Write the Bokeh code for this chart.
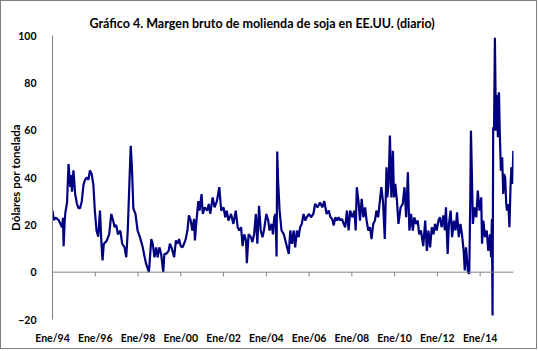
from bokeh.plotting import figure
from bokeh.models import FixedTicker, Span, Range1d, Title
from bokeh.embed import file_html
from bokeh.resources import INLINE

title_text = "Gráfico 4. Margen bruto de molienda de soja en EE.UU. (diario)"
y_label = "Dólares por tonelada"

tick_years = [1994, 1996, 1998, 2000, 2002, 2004, 2006, 2008, 2010, 2012, 2014]
tick_labels = ["Ene/94", "Ene/96", "Ene/98", "Ene/00", "Ene/02", "Ene/04",
               "Ene/06", "Ene/08", "Ene/10", "Ene/12", "Ene/14"]
y_ticks = [-20, 0, 20, 40, 60, 80, 100]

# decimal year of observation
decimal_year = [
    1994.00, 1994.06, 1994.14, 1994.22, 1994.29, 1994.37, 1994.45, 1994.49, 1994.52, 1994.57,
    1994.60, 1994.68, 1994.75, 1994.83, 1994.88, 1994.91, 1994.98, 1995.06, 1995.14, 1995.22,
    1995.29, 1995.37, 1995.45, 1995.52, 1995.60, 1995.68, 1995.75, 1995.83, 1995.91, 1995.98,
    1996.06, 1996.14, 1996.22, 1996.29, 1996.34, 1996.40, 1996.52, 1996.65, 1996.75, 1996.83,
    1996.91, 1996.98, 1997.06, 1997.17, 1997.26, 1997.37, 1997.45, 1997.52, 1997.60, 1997.66,
    1997.72, 1997.78, 1997.88, 1997.98, 1998.09, 1998.22,
    1998.31, 1998.38, 1998.51, 1998.62, 1998.69, 1998.77, 1998.85, 1998.92, 1999.00, 1999.08,
    1999.18, 1999.23, 1999.31, 1999.43, 1999.49, 1999.58, 1999.69, 1999.77, 1999.85, 1999.92,
    2000.00, 2000.08, 2000.15, 2000.23, 2000.31, 2000.38, 2000.46, 2000.54, 2000.62, 2000.66,
    2000.72, 2000.82, 2000.88, 2000.97, 2001.03, 2001.12, 2001.23, 2001.31, 2001.38, 2001.49,
    2001.58, 2001.69, 2001.80, 2001.89, 2002.00, 2002.08, 2002.15, 2002.23, 2002.35, 2002.46,
    2002.57,
    2002.66, 2002.74, 2002.82, 2002.89, 2002.97, 2003.05, 2003.09, 2003.17, 2003.28, 2003.35,
    2003.43, 2003.51, 2003.58, 2003.66, 2003.74, 2003.82, 2003.89, 2004.00, 2004.09, 2004.15,
    2004.25, 2004.31, 2004.37, 2004.43, 2004.48, 2004.51, 2004.55, 2004.62, 2004.71, 2004.82,
    2004.89, 2004.97, 2005.05, 2005.12, 2005.20, 2005.28, 2005.35, 2005.43, 2005.51, 2005.58,
    2005.66, 2005.74, 2005.82, 2005.89, 2006.00, 2006.09, 2006.20, 2006.28, 2006.40, 2006.51,
    2006.62, 2006.71, 2006.82,
    2006.92, 2007.00, 2007.08, 2007.15, 2007.23, 2007.31, 2007.38, 2007.46, 2007.54, 2007.62,
    2007.69, 2007.77, 2007.85, 2007.92, 2008.03, 2008.12, 2008.18, 2008.23, 2008.31, 2008.38,
    2008.46, 2008.54, 2008.62, 2008.69, 2008.77, 2008.85, 2008.92, 2009.00, 2009.08, 2009.15,
    2009.23, 2009.31, 2009.38, 2009.46, 2009.54, 2009.62, 2009.66, 2009.72, 2009.78, 2009.85,
    2009.92, 2009.97, 2010.03, 2010.11, 2010.18, 2010.28, 2010.38, 2010.46, 2010.54, 2010.62,
    2010.69, 2010.77, 2010.85, 2010.92, 2011.00, 2011.08, 2011.15, 2011.23, 2011.34,
    2011.43, 2011.51, 2011.58, 2011.66, 2011.74, 2011.82, 2011.89, 2011.97, 2012.05, 2012.12,
    2012.20, 2012.28, 2012.35, 2012.40, 2012.48, 2012.54, 2012.62, 2012.69, 2012.77, 2012.85,
    2012.92, 2013.00, 2013.08, 2013.15, 2013.23, 2013.28, 2013.34, 2013.43, 2013.49, 2013.54,
    2013.57, 2013.62, 2013.66, 2013.74, 2013.82, 2013.89, 2013.97, 2014.05, 2014.09, 2014.15,
    2014.23, 2014.31, 2014.38, 2014.46, 2014.51, 2014.55, 2014.58, 2014.61, 2014.65, 2014.69,
    2014.74, 2014.78, 2014.83, 2014.88, 2014.92, 2014.97, 2015.03, 2015.08, 2015.12, 2015.17,
    2015.22, 2015.26, 2015.32, 2015.37, 2015.42, 2015.46, 2015.51, 2015.55,
]

# crush margin, US$ per tonne
margin = [
    26, 22, 23, 22.5, 22, 20.4, 19, 23, 11, 22,
    25, 29.5, 45.7, 36, 41, 34, 43, 33, 29, 27,
    27, 30, 37, 39, 40, 39, 43, 41.5, 37, 26,
    17.5, 15, 26, 12, 5, 12, 13, 16, 24.6, 22,
    19, 20, 16, 17.6, 12, 10.5, 6.3, 17.6, 38.7, 53.4,
    43, 27, 24.6, 17.6, 14.8, 10.5,
    6.3, 3.5, 0, 14, 12, 6.3, 10.5, 6.3, 10.5, 7.7,
    0, 7.7, 7.7, 9, 12, 10, 6.3, 13.4, 12, 14,
    11, 10.5, 12, 14, 17.6, 24, 22, 17.6, 22.5, 13.4,
    20.4, 30, 26, 33, 24.6, 27.4, 26, 28.8, 24.6, 31.6,
    27.4, 30, 35.9, 26, 27.4, 23.2, 26, 21.8, 24.6, 20.4,
    26,
    19, 17.6, 19, 11, 16, 13.4, 3.8, 16, 14.8, 12.7,
    16, 24.6, 12, 28, 17.6, 14.8, 17.6, 24.6, 21.8, 17.6,
    20.4, 16, 23.2, 24.6, 6.6, 51, 38.7, 26, 17.6, 16,
    13.4, 10.5, 7.7, 17.6, 12, 17.6, 10.5, 17.6, 14.8, 19,
    20.4, 24.6, 21.8, 23.2, 24.6, 23.2, 24.6, 28.8, 27.4, 29.5,
    27.4, 30, 24.6,
    26, 23.2, 22.5, 19.7, 23.2, 21.8, 23.2, 21.8, 22.5, 20.4,
    19, 26, 17.6, 26, 23.2, 26, 17.6, 35.9, 30, 21.8,
    31, 23.2, 27.4, 21.8, 17.6, 19, 14, 20.4, 21.8, 26,
    23.2, 30, 35.9, 29.5, 14, 44.3, 31.6, 37.3, 57.7, 31.6,
    51.3, 31.6, 37.3, 30, 20.4, 27.4, 28.8, 35.9, 23.2, 42.2,
    17.6, 24.6, 17.6, 23.2, 20.4, 21.8, 16, 17.6, 11,
    21.8, 9, 17.6, 10.5, 19, 16, 20.4, 17.6, 21.8, 23.2,
    19, 24, 17.6, 27.4, 7.7, 20.4, 26, 14.8, 21.8, 17.6,
    25.3, 14.8, 20.4, 16, 9, 0.7, 10.5, 0, -0.7, 31.6,
    59.8, 38.7, 20.4, 27.4, 23.2, 34.5, 26, 31.6, 12, 21.8,
    14.8, 17.6, 9, 16, 6.3, 22.5, -18.3, 61.2, 59.8, 99,
    59.8, 75, 57, 76, 58.4, 42.9, 48.5, 33, 41.5, 40,
    28.8, 26, 28.8, 19, 35.9, 44.3, 37.3, 51.3,
]

FONT = "Lato"
AXIS_GRAY = "#808080"

p = figure(width=537, height=349, output_backend="svg", toolbar_location=None,
           x_range=Range1d(1994, 2015.56), y_range=Range1d(-20, 100),
           min_border_left=51, min_border_right=25, min_border_top=34, min_border_bottom=31,
           styles={"border": "1px solid #7f7f7f"})
p.title = Title(text=title_text, text_font=FONT, text_font_size="12.5px",
                text_font_style="bold", align="left", offset=37, standoff=10,
                text_color="#000000")
p.outline_line_color = None
p.grid.visible = False
p.background_fill_color = "white"
p.border_fill_color = "white"

# zero line with downward tick marks at the date ticks
p.add_layout(Span(location=0, dimension="width", line_color=AXIS_GRAY, line_width=1))
p.segment(x0=tick_years, y0=[0] * len(tick_years), x1=tick_years,
          y1=[-1.8] * len(tick_years), line_color=AXIS_GRAY, line_width=1)

p.line(decimal_year, margin, line_color="#000080", line_width=2.2)

xa = p.xaxis[0]
xa.ticker = FixedTicker(ticks=tick_years)
xa.major_label_overrides = {t: l for t, l in zip(tick_years, tick_labels)}
xa.axis_line_color = None
xa.major_tick_line_color = None
xa.minor_tick_line_color = None
xa.major_label_standoff = 6
xa.major_label_text_font = FONT
xa.major_label_text_font_style = "bold"
xa.major_label_text_font_size = "10.5px"
xa.major_label_text_color = "#000000"

ya = p.yaxis[0]
ya.ticker = FixedTicker(ticks=y_ticks)
ya.axis_line_color = AXIS_GRAY
ya.major_tick_line_color = None
ya.minor_tick_line_color = None
ya.major_label_standoff = 10
ya.major_label_text_font = FONT
ya.major_label_text_font_style = "bold"
ya.major_label_text_font_size = "10.5px"
ya.major_label_text_color = "#000000"
ya.axis_label = y_label
ya.axis_label_text_font = FONT
ya.axis_label_text_font_style = "bold"
ya.axis_label_text_font_size = "11.5px"
ya.axis_label_text_color = "#000000"
ya.axis_label_standoff = -7

open("out.html", "w").write(file_html(p, INLINE))
